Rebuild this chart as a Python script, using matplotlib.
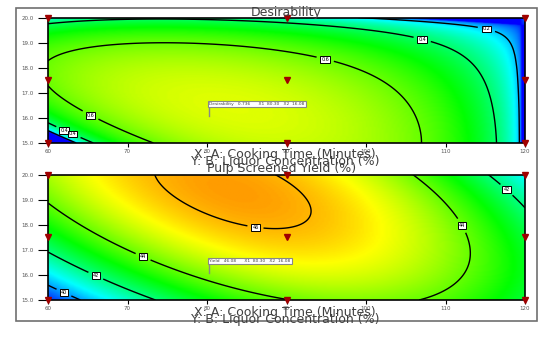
import numpy as np
import matplotlib
matplotlib.use("Agg")
import matplotlib.pyplot as plt
from matplotlib.colors import LinearSegmentedColormap, Normalize
from matplotlib.patches import Rectangle

# factor ranges
time_range = [60, 120]          # A: cooking time (min)
conc_range = [15.0, 20.0]       # B: liquor concentration (%)
time_ticks = [60, 70, 80, 90, 100, 110, 120]
conc_ticks = [15.0, 16.0, 17.0, 18.0, 19.0, 20.0]

# design points (3x3 face centred)
design_time = [60, 60, 60, 90, 90, 90, 120, 120, 120]
design_conc = [15.0, 17.5, 20.0, 15.0, 17.5, 20.0, 15.0, 17.5, 20.0]

# response surface coefficients in coded units: 1, A, B, AB, A^2, B^2
yield_coef = [45.87643, -0.04587, 0.97209, -1.877, -3.20022, -0.93385]
desir_coef = [0.31696, 0.14408, -0.15640, -0.18561, -0.06077, -0.13096]
desir_edge = 0.99   # coded time where desirability hits zero

desir_levels = [0.2, 0.4, 0.6]
yield_levels = [40, 42, 44, 46]

# prediction flag
flag_time = 80.3
flag_conc = 16.08
desir_pred = 0.736
yield_pred = 46.08


def terms(u, v):
    return np.stack([np.ones_like(u), u, v, u * v, u ** 2, v ** 2], axis=-1)


def coded(t, c):
    return (t - 90) / 30, (c - 17.5) / 2.5


cmap = LinearSegmentedColormap.from_list(
    "dx", ["#0000ff", "#00ffff", "#00ff00", "#ffff00", "#ff0000"])

x = np.linspace(time_range[0], time_range[1], 240)
y = np.linspace(conc_range[0], conc_range[1], 240)
X, Y = np.meshgrid(x, y)
U, V = coded(X, Y)

D = np.clip((desir_edge - U) * (terms(U, V) @ np.array(desir_coef)), 0, None) ** (1 / 3)
YL = terms(U, V) @ np.array(yield_coef)

fig = plt.figure(figsize=(5.41, 3.45), dpi=100)
fig.patches.append(Rectangle((16 / 541, 24 / 345), 521 / 541, 313 / 345,
                             transform=fig.transFigure, fill=False,
                             ec="#707070", lw=1.2))

panels = [
    (0.5855, D, Normalize(0, 1), desir_levels, "%.1f",
     [(94, 17.2), (65, 15.9), (107, 19.04), (62.4, 15.75), (115.3, 19.75), (62.5, 15.48)],
     "Desirability   %.3f      X1  %.2f   X2  %.2f" % (desir_pred, flag_time, flag_conc)),
    (0.1304, YL, Normalize(38.55, 47.64), yield_levels, "%.0f",
     [(86.3, 18.36), (72, 16.75), (112.7, 18.08), (66.1, 16.03), (117.7, 19.4), (62.1, 15.36)],
     "Yield   %.2f      X1  %.2f   X2  %.2f" % (yield_pred, flag_time, flag_conc)),
]

for bottom, Z, norm, levels, fmt, lab_pos, flag in panels:
    ax = fig.add_axes([48 / 541, bottom, 477 / 541, 125.5 / 345])
    ax.imshow(Z, origin="lower", extent=(*time_range, *conc_range), aspect="auto",
              cmap=cmap, norm=norm, interpolation="bilinear")
    cs = ax.contour(X, Y, Z, levels=levels, colors="black", linewidths=1.0)
    labs = ax.clabel(cs, fmt=fmt, manual=lab_pos, inline=True, fontsize=3.5)
    for t in labs:
        t.set_rotation(0)
        t.set_bbox(dict(boxstyle="square,pad=0.2", fc="white", ec="black", lw=0.7))

    ax.plot(design_time, design_conc, "v", color="#a00000", ms=4,
            clip_on=False, zorder=5)

    # prediction flag
    ax.plot([flag_time, flag_time], [flag_conc, flag_conc + 0.4], color="#888888", lw=1)
    ax.text(flag_time, flag_conc + 0.4, flag, fontsize=3.2, va="bottom", ha="left",
            color="#444444",
            bbox=dict(boxstyle="square,pad=0.25", fc="white", ec="#888888", lw=0.8))

    ax.set_xlim(*time_range)
    ax.set_ylim(*conc_range)
    ax.set_xticks(time_ticks)
    ax.set_yticks(conc_ticks)
    ax.set_yticklabels(["%.1f" % c for c in conc_ticks])
    ax.tick_params(axis="y", length=7, width=0.8, pad=3.5, labelsize=4,
                   labelcolor="#555555")
    ax.tick_params(axis="x", length=3, width=0.8, pad=1.5, labelsize=4,
                   labelcolor="#555555")
    for s in ax.spines.values():
        s.set_linewidth(1.2)

txt = dict(ha="center", va="center", fontsize=9, color="#404040")
fig.text(0.529, 0.963, "Desirability", **txt)
fig.text(0.527, 0.553, "X: A: Cooking Time (Minutes)", **txt)
fig.text(0.527, 0.531, "Y: B: Liquor Concentration (%)", **txt)
fig.text(0.521, 0.513, "Pulp Screened Yield (%)", **txt)
fig.text(0.527, 0.095, "X: A: Cooking Time (Minutes)", **txt)
fig.text(0.527, 0.074, "Y: B: Liquor Concentration (%)", **txt)

fig.savefig("out.png", dpi=100)
